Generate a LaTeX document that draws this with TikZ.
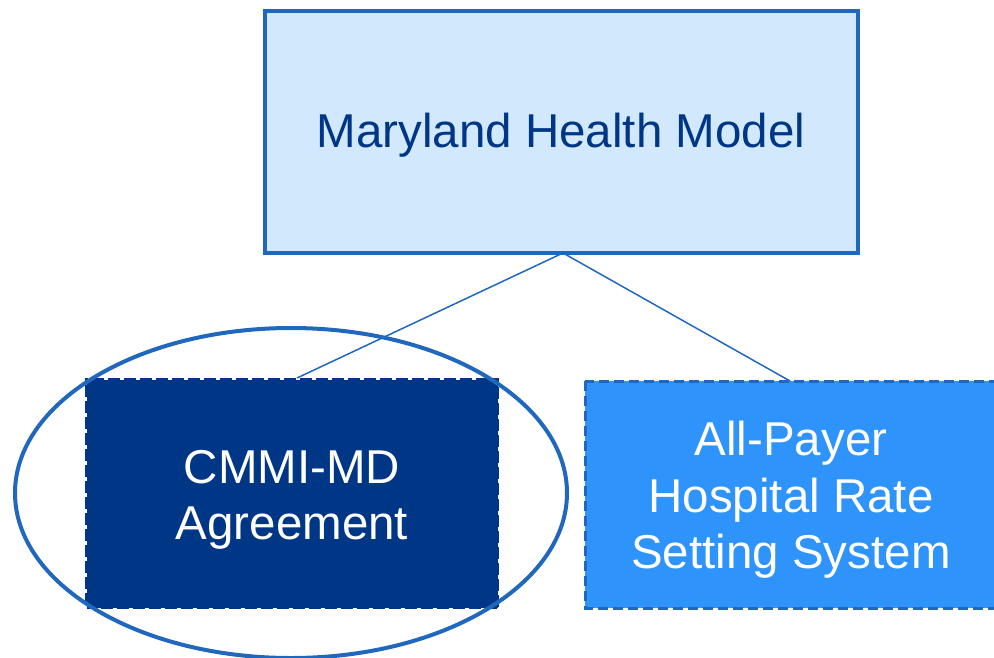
\documentclass[tikz,border=0pt]{standalone}
\usepackage{fontspec}
\setmainfont{Liberation Sans}
\usetikzlibrary{shapes.geometric}
\definecolor{edgeblue}{HTML}{2068BE}
\definecolor{paleblue}{HTML}{D2E8FC}
\definecolor{navy}{HTML}{003686}
\definecolor{brightblue}{HTML}{2E93FA}
\tikzset{
  txt/.style={font=\fontsize{47.5}{56.5}\selectfont, align=center},
  topbox/.style={draw=edgeblue, line width=4pt, fill=paleblue, text=navy, txt},
  leftbox/.style={fill=navy, text=white, txt},
  rightbox/.style={draw=edgeblue, line width=3pt, dash pattern=on 10pt off 5pt, fill=brightblue, text=white, txt},
  link/.style={draw=edgeblue, line width=1.5pt},
}
\begin{document}
\begin{tikzpicture}[x=1pt, y=-1pt]
\useasboundingbox (0,0) rectangle (994,657);
% top box
\path[topbox] (265,11) rectangle (858,253);
\node[txt, text=navy] (top) at (561,135) {Maryland Health Model};
\coordinate (hub) at (563,253);
% left box with white-gapped dashed border
\path[fill=navy] (85,378) rectangle (499,609);
\draw[white, line width=3pt, dash pattern=on 4pt off 12pt, dash phase=-3pt] (85,378) rectangle (499,609);
\node[txt, text=white] (left) at (292,500) {CMMI-MD\\Agreement};
\coordinate (lefttop) at (297,378);
% right box
\path[rightbox] (585,381) rectangle (1000,608);
\node[txt, text=white] (right) at (791,500) {All-Payer\\Hospital Rate\\Setting System};
\coordinate (righttop) at (790,381);
% connectors
\draw[link] (hub) -- (lefttop);
\draw[link] (hub) -- (righttop);
% highlight ellipse
\node[draw=edgeblue, line width=4pt, ellipse, minimum width=552pt, minimum height=330pt, inner sep=0pt] (ring) at (291,493) {};
\end{tikzpicture}
\end{document}
